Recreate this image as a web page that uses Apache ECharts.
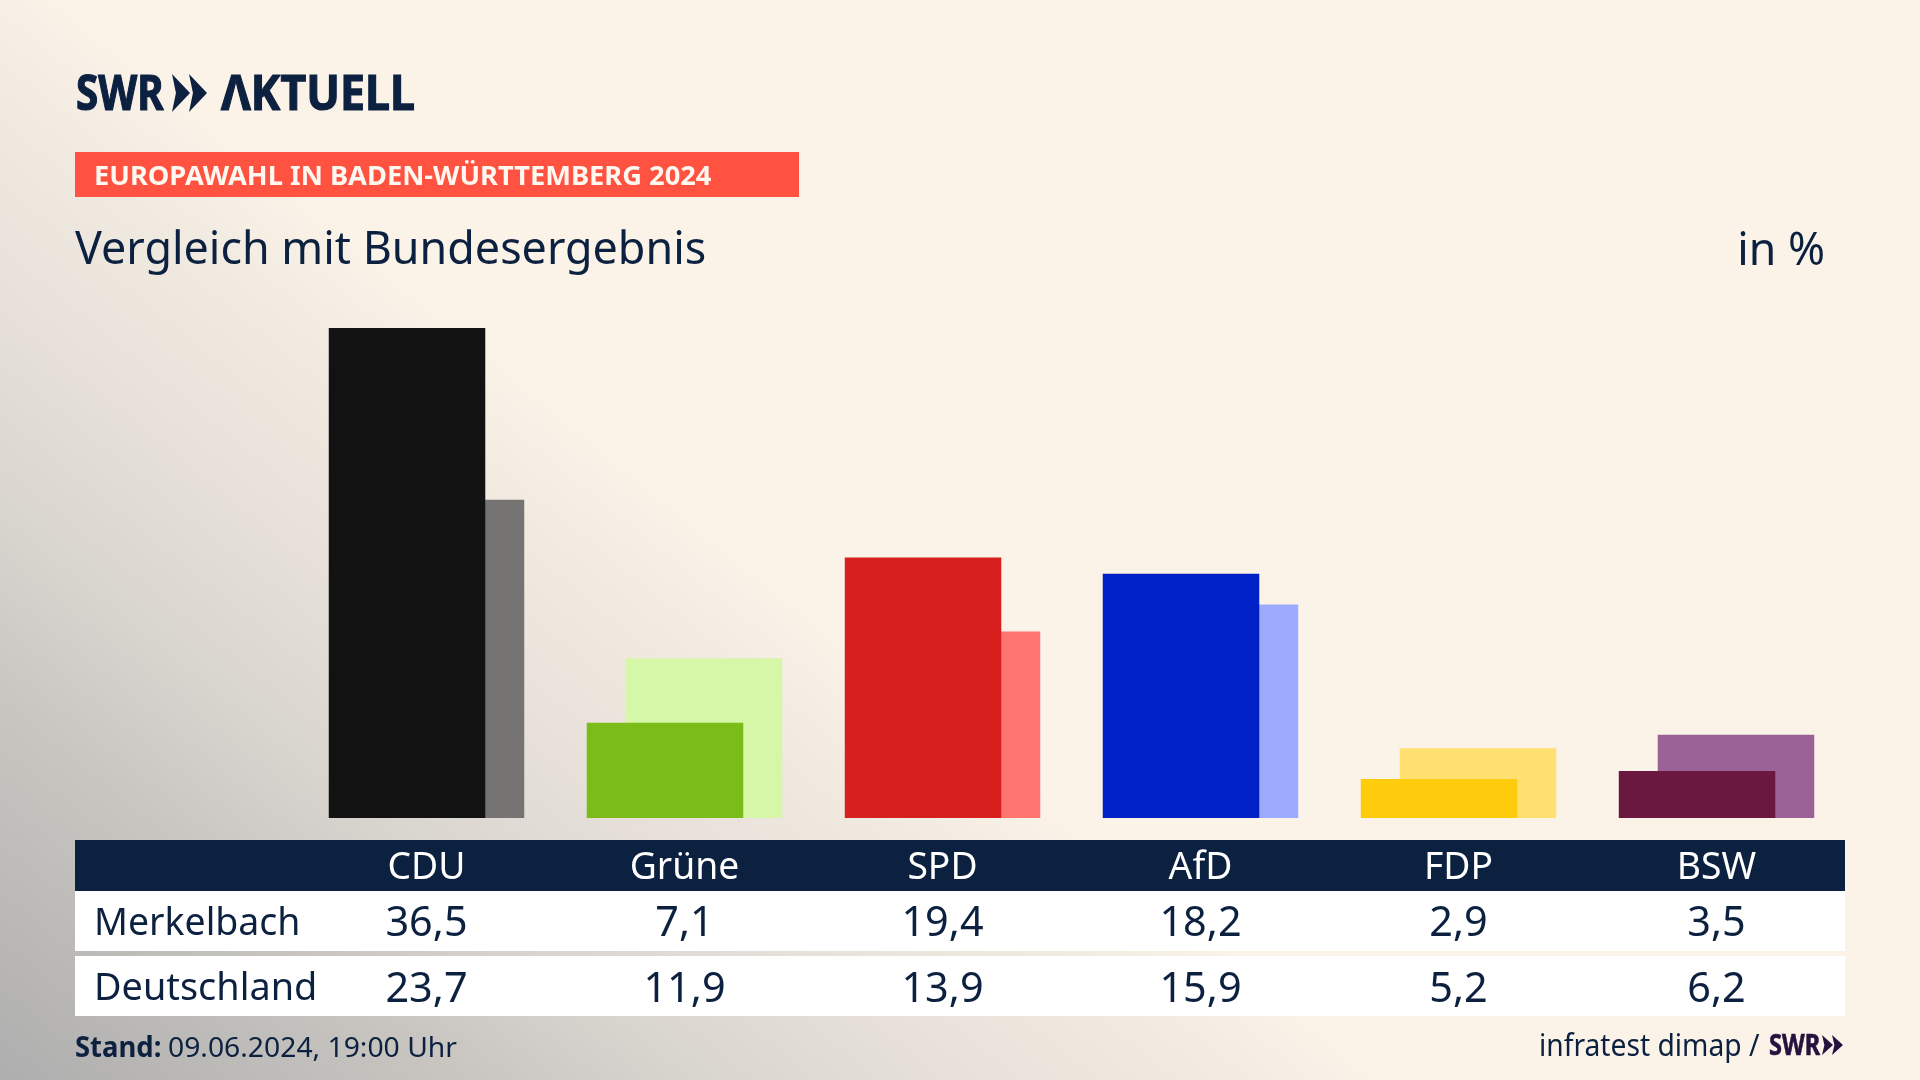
<!doctype html>
<html lang="de">
<head>
    <meta charset="UTF-8">
    <title>Vergleich mit Bundesergebnis</title>
    <style>
        html, body { margin: 0; padding: 0; background: #fbf3e8; }
        #chart { width: 1920px; height: 1080px; }
    </style>
    <script src="https://cdn.jsdelivr.net/npm/echarts@6/dist/echarts.min.js"></script>
</head>
<body>
<div id="chart"></div>
<script type="text/javascript">
    // Daten
    var parties = ['CDU', 'Grüne', 'SPD', 'AfD', 'FDP', 'BSW'];
    var merkelbach = [36.5, 7.1, 19.4, 18.2, 2.9, 3.5];
    var deutschland = [23.7, 11.9, 13.9, 15.9, 5.2, 6.2];
    var frontColors = ['#121212', '#7bbc18', '#d71f1d', '#0021c5', '#ffcc0d', '#6b1840'];
    var backColors = ['#757472', '#d6f6a8', '#ff7570', '#9dabff', '#ffe070', '#9b6297'];

    var navy = '#0c2040';
    var fontName = '"Noto Sans"';
    var myChart = echarts.init(document.getElementById('chart'), null, { renderer: 'canvas' });

    var barData = function (values, colors) {
        return values.map(function (v, i) {
            return { value: v, itemStyle: { color: colors[i] } };
        });
    };

    var option = {
        animation: false,
        grid: { left: 297.5, right: 74.5, top: 328, bottom: 262 },
        xAxis: {
            type: 'category',
            data: parties,
            axisLine: { show: false },
            axisTick: { show: false },
            axisLabel: { show: false }
        },
        yAxis: { type: 'value', min: 0, max: 36.5, show: false },
        series: [
            { name: 'Merkelbach', type: 'bar', z: 3, barWidth: 156.5, barGap: '-75.1%', data: barData(merkelbach, frontColors) },
            { name: 'Deutschland', type: 'bar', z: 2, barWidth: 156.5, barGap: '-75.1%', data: barData(deutschland, backColors) }
        ]
    };
    myChart.setOption(option);

    // Text helper: y is the baseline
    var txt = function (str, x, y, size, sx, opt) {
        opt = opt || {};
        var color = opt.color || navy;
        return {
            type: 'text', silent: true, z: 10,
            x: x, y: y - size * 0.28, scaleX: sx,
            style: {
                x: 0, y: 0, text: str,
                fill: color,
                stroke: opt.stroke ? color : null,
                lineWidth: opt.stroke || 0,
                font: (opt.weight || 'normal') + ' ' + size + 'px ' + fontName,
                textAlign: opt.align || 'left',
                textVerticalAlign: 'middle'
            }
        };
    };
    var box = function (x, y, w, h, fill) {
        return { type: 'rect', silent: true, z: 1, shape: { x: x, y: y, width: w, height: h }, style: { fill: fill } };
    };
    // SWR chevrons
    var chevron = function (x, y, w, h, fill) {
        return {
            type: 'polygon', silent: true, z: 10,
            shape: { points: [[x, y], [x + w, y + h / 2], [x, y + h], [x + w * 0.22, y + h / 2]] },
            style: { fill: fill }
        };
    };

    var fmt = function (v) { return v.toFixed(1).replace('.', ','); };

    var items = [
        // Hintergrund
        {
            type: 'rect', silent: true, z: -1,
            shape: { x: 0, y: 0, width: 1920, height: 1080 },
            style: {
                fill: new echarts.graphic.LinearGradient(0, 1080, 556, 398, [
                    { offset: 0, color: '#aeaeae' },
                    { offset: 0.34, color: '#c9c6c1' },
                    { offset: 0.51, color: '#d9d5cf' },
                    { offset: 0.68, color: '#e6e0d9' },
                    { offset: 0.886, color: '#f2ebe1' },
                    { offset: 1, color: '#fbf3e8' }
                ], true)
            }
        },
        // Kopf
        txt('SWR', 76, 110, 48, 0.84, { weight: 'bold', stroke: 1.2 }),
        chevron(172, 74, 18, 38, navy),
        chevron(189, 74, 18, 38, navy),
        txt('ΛKTUELL', 221, 110, 48, 0.93, { weight: 'bold', stroke: 1.2 }),
        box(75, 152, 724, 45, '#ff5240'),
        txt('EUROPAWAHL IN BADEN-WÜRTTEMBERG 2024', 94, 185, 27, 1.01, { weight: 'bold', color: '#fff8f0' }),
        txt('Vergleich mit Bundesergebnis', 75, 264, 46, 0.975),
        txt('in %', 1825, 265, 46, 0.97, { align: 'right' }),
        // Tabelle
        box(75, 840, 1770, 51, navy),
        box(75, 891, 1770, 60, '#ffffff'),
        box(75, 956, 1770, 60, '#ffffff'),
        txt('Merkelbach', 94, 935, 39, 0.96),
        txt('Deutschland', 94, 1000, 39, 0.97),
        // Fuss
        txt('Stand:', 75, 1057, 28, 0.98, { weight: 'bold' }),
        txt('09.06.2024, 19:00 Uhr', 168, 1057, 28, 1.01),
        txt('infratest dimap /', 1539, 1056, 30, 0.94),
        txt('SWR', 1769, 1055, 28, 0.84, { weight: 'bold', color: '#27123f', stroke: 0.6 }),
        chevron(1822, 1035, 11, 20, '#27123f'),
        chevron(1832, 1035, 11, 20, '#27123f')
    ];

    // Spalten der Tabelle stehen unter den Balkengruppen
    parties.forEach(function (name, i) {
        var cx = myChart.convertToPixel({ xAxisIndex: 0 }, name);
        items.push(txt(name, cx, 879, 38, 0.98, { color: '#ffffff', align: 'center' }));
        items.push(txt(fmt(merkelbach[i]), cx, 936, 41, 1.01, { align: 'center' }));
        items.push(txt(fmt(deutschland[i]), cx, 1002, 41, 1.01, { align: 'center' }));
    });

    myChart.setOption({ graphic: { elements: items } });
</script>
</body>
</html>
